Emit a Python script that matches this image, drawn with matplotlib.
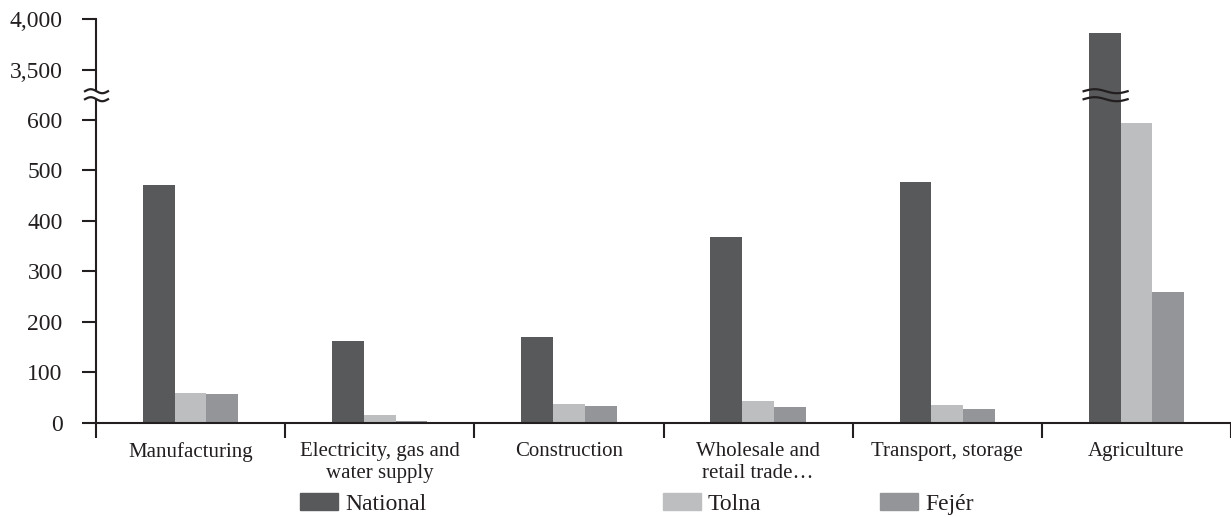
import numpy as np
import matplotlib
matplotlib.use('Agg')
import matplotlib.pyplot as plt
from matplotlib.patches import Patch, Polygon
from matplotlib.lines import Line2D
from matplotlib.transforms import IdentityTransform

# data
categories = ['Manufacturing', 'Electricity, gas and\nwater supply', 'Construction',
              'Wholesale and\nretail trade…', 'Transport, storage', 'Agriculture']
national = [471, 162, 170, 367, 476, 3860]
tolna = [60, 16, 38, 43, 35, 593]
fejer = [57, 3, 34, 31, 27, 260]
series_names = ['National', 'Tolna', 'Fejér']
yticks = [0, 100, 200, 300, 400, 500, 600, 3500, 4000]

colors = ['#58595b', '#bcbec0', '#939598']
ink = '#231f20'

plt.rcParams['font.family'] = ['Liberation Serif', 'DejaVu Serif']

# broken y axis: 0-650 normal, 650-3257 squeezed, above 3257 at 1/5 scale
LOW, HIGH, GAP, UP = 650.0, 3257.0, 0.0001, 0.2
T1 = LOW + (HIGH - LOW) * GAP

def fwd(v):
    v = np.asarray(v, dtype=float)
    return np.where(v <= LOW, v, np.where(v <= HIGH, LOW + (v - LOW) * GAP, T1 + (v - HIGH) * UP))

def inv(t):
    t = np.asarray(t, dtype=float)
    return np.where(t <= LOW, t, np.where(t <= T1, LOW + (t - LOW) / GAP, HIGH + (t - T1) / UP))

W, H = 1231, 517
fig = plt.figure(figsize=(W / 100, H / 100), dpi=100)
ax = fig.add_axes([96 / W, 94 / H, (W - 96) / W, 404 / H])
ax.set_yscale('function', functions=(fwd, inv))

x = np.arange(len(categories))
w = 0.168
for i, (vals, name) in enumerate(zip([national, tolna, fejer], series_names)):
    ax.bar(x + (i - 1) * w, vals, w, color=colors[i], label=name, zorder=2)

ax.set_ylim(0, 4000)
ax.set_xlim(-0.5, 5.486)

ax.set_yticks(yticks)
ax.set_yticklabels([f'{v:,}' for v in yticks])
ax.yaxis.set_minor_locator(matplotlib.ticker.NullLocator())
ax.tick_params(axis='y', length=10, width=1.5, color=ink, labelsize=17, pad=14, labelcolor=ink)

ax.set_xticks(np.arange(len(categories) + 1) - 0.5)
ax.set_xticklabels([])
ax.set_xticks(x, minor=True)
ax.set_xticklabels(categories, minor=True, fontsize=15, linespacing=1.2, color=ink)
ax.tick_params(axis='x', which='major', length=11, width=1.5, color=ink)
ax.tick_params(axis='x', which='minor', length=0, pad=14)

for s in ['top', 'right']:
    ax.spines[s].set_visible(False)
for s in ['left', 'bottom']:
    ax.spines[s].set_color(ink)
    ax.spines[s].set_linewidth(1.5)

# break marks (drawn in pixel coords)
fig.canvas.draw()
def wave(cx, cy, half, fill_white):
    xs = np.linspace(-half, half, 60)
    ys = 2.0 * np.sin(2 * np.pi * (xs + half) / (2 * half))
    top = np.column_stack([cx + xs, cy + 4 + ys])
    bot = np.column_stack([cx + xs, cy - 4 + ys])
    if fill_white:
        poly = Polygon(np.vstack([top, bot[::-1]]), closed=True, facecolor='white',
                       edgecolor='none', transform=IdentityTransform(), zorder=5)
        fig.add_artist(poly)
    for seg in (top, bot):
        fig.add_artist(Line2D(seg[:, 0], seg[:, 1], color=ink, lw=1.6,
                              transform=IdentityTransform(), zorder=6))

mid = (LOW + HIGH) / 2
ax_x, br_y = ax.transData.transform((-0.5, mid))
wave(ax_x + 0.5, br_y - 1, 11.5, True)
bar_x, _ = ax.transData.transform((x[5] - w, mid))
wave(bar_x + 1, br_y - 1, 22, False)

# legend: three separate entries placed along the bottom
leg_x = [300, 663, 880]
for i, name in enumerate(series_names):
    lg = fig.legend(handles=[Patch(color=colors[i], label=name)], loc='center left',
                    bbox_to_anchor=(leg_x[i] / W, 13 / H), frameon=False,
                    handlelength=1.6, handleheight=0.75, handletextpad=0.3,
                    fontsize=17, borderpad=0, borderaxespad=0)
    for t in lg.get_texts():
        t.set_color(ink)

fig.savefig('out.png', dpi=100)
